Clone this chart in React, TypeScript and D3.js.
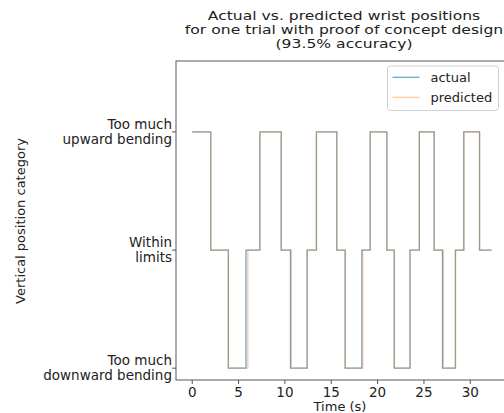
import React from "react";
import * as d3 from "d3";

// change times (s) and category after each change (0 = down, 1 = within, 2 = up)
const actualTimes = [0, 2.0, 3.9, 5.8, 7.3, 9.6, 10.6, 12.4, 13.4, 15.6, 16.5, 18.3, 19.2, 21.0, 21.8, 23.5, 24.5, 26.1, 27.0, 28.4, 29.3, 31.0, 32.3];
const actualVals = [2, 1, 0, 1, 2, 1, 0, 1, 2, 1, 0, 1, 2, 1, 0, 1, 2, 1, 0, 1, 2, 1, 1];
const predictedTimes = [0, 2.0, 3.9, 6.0, 7.3, 9.6, 10.7, 12.4, 13.4, 15.6, 16.5, 18.4, 19.2, 21.0, 21.8, 23.5, 24.5, 26.1, 27.1, 28.4, 29.3, 31.0, 32.3];
const predictedVals = [2, 1, 0, 1, 2, 1, 0, 1, 2, 1, 0, 1, 2, 1, 0, 1, 2, 1, 0, 1, 2, 1, 1];

const xTicks = [0, 5, 10, 15, 20, 25, 30];
const yTickVals = [0, 1, 2];
const yTickLabels = [
  ["Too much", "downward bending"],
  ["Within", "limits"],
  ["Too much", "upward bending"],
];
const titleLines = [
  "Actual vs. predicted wrist positions",
  "for one trial with proof of concept design",
  "(93.5% accuracy)",
];

const W = 504;
const H = 413;
const margin = { top: 61, right: -8, bottom: 33, left: 176 };
const font = "DejaVu Sans, sans-serif";

const App = () => {
  const x = d3.scaleLinear().domain([-1.75, 34.5]).range([margin.left, W - margin.right]);
  const y = d3.scaleLinear().domain([-0.1, 2.6]).range([H - margin.bottom, margin.top]);

  const line = d3
    .line<[number, number]>()
    .x((d) => x(d[0]))
    .y((d) => y(d[1]))
    .curve(d3.curveStepAfter);

  const actualPts = actualTimes.map((t, i) => [t, actualVals[i]] as [number, number]);
  const predPts = predictedTimes.map((t, i) => [t, predictedVals[i]] as [number, number]);

  const x0 = margin.left;
  const x1 = W - margin.right;
  const y0 = margin.top;
  const y1 = H - margin.bottom;
  const cx = (x0 + x1) / 2;

  return (
    <svg
      width={W}
      height={H}
      style={{ position: "absolute", left: 0, top: 0, background: "#fff" }}
      fontFamily={font}
    >
      {/* title (source figure is stretched sideways) */}
      {titleLines.map((t, i) => (
        <text
          key={i}
          transform={`translate(${cx},${19.5 + i * 14}) scale(1.3,1)`}
          textAnchor="middle"
          fontSize={12}
          fill="#222"
        >
          {t}
        </text>
      ))}

      {/* lines */}
      <path d={line(actualPts) || ""} fill="none" stroke="#1f77b4" strokeOpacity={0.65} strokeWidth={1.3} />
      <path d={line(predPts) || ""} fill="none" stroke="#ff7f0e" strokeOpacity={0.4} strokeWidth={1.3} />

      {/* spines */}
      <rect x={x0} y={y0} width={x1 - x0} height={y1 - y0} fill="none" stroke="#444" strokeWidth={0.9} />

      {/* x axis */}
      {xTicks.map((t) => (
        <g key={t} transform={`translate(${x(t)},${y1})`}>
          <line y2={4} stroke="#444" strokeWidth={0.9} />
          <text y={17} textAnchor="middle" fontSize={13.5} fill="#222">
            {t}
          </text>
        </g>
      ))}
      <text x={340} y={411} textAnchor="middle" fontSize={13} fill="#222">
        Time (s)
      </text>

      {/* y axis */}
      {yTickVals.map((v, i) => (
        <g key={v} transform={`translate(${x0},${y(v)})`}>
          <line x2={-4} stroke="#444" strokeWidth={0.9} />
          {yTickLabels[i].map((s, j) => (
            <text key={j} x={-4} y={-7.5 + j * 15} dy="0.35em" textAnchor="end" fontSize={13.5} fill="#222">
              {s}
            </text>
          ))}
        </g>
      ))}
      <text
        transform={`translate(20,221) rotate(-90)`}
        textAnchor="middle"
        dy="0.35em"
        fontSize={13}
        fill="#222"
      >
        Vertical position category
      </text>

      {/* legend */}
      <g>
        <rect x={387.5} y={66} width={111} height={44.5} rx={3} fill="#fff" fillOpacity={0.8} stroke="#ccc" strokeWidth={0.9} />
        <line x1={392.5} x2={419.5} y1={77.3} y2={77.3} stroke="#1f77b4" strokeOpacity={0.65} strokeWidth={1.3} />
        <text x={430.5} y={77.3} dy="0.35em" fontSize={13} fill="#222">
          actual
        </text>
        <line x1={392.5} x2={419.5} y1={97.3} y2={97.3} stroke="#ff7f0e" strokeOpacity={0.4} strokeWidth={1.3} />
        <text x={430.5} y={97.3} dy="0.35em" fontSize={13} fill="#222">
          predicted
        </text>
      </g>
    </svg>
  );
};

export default App;
